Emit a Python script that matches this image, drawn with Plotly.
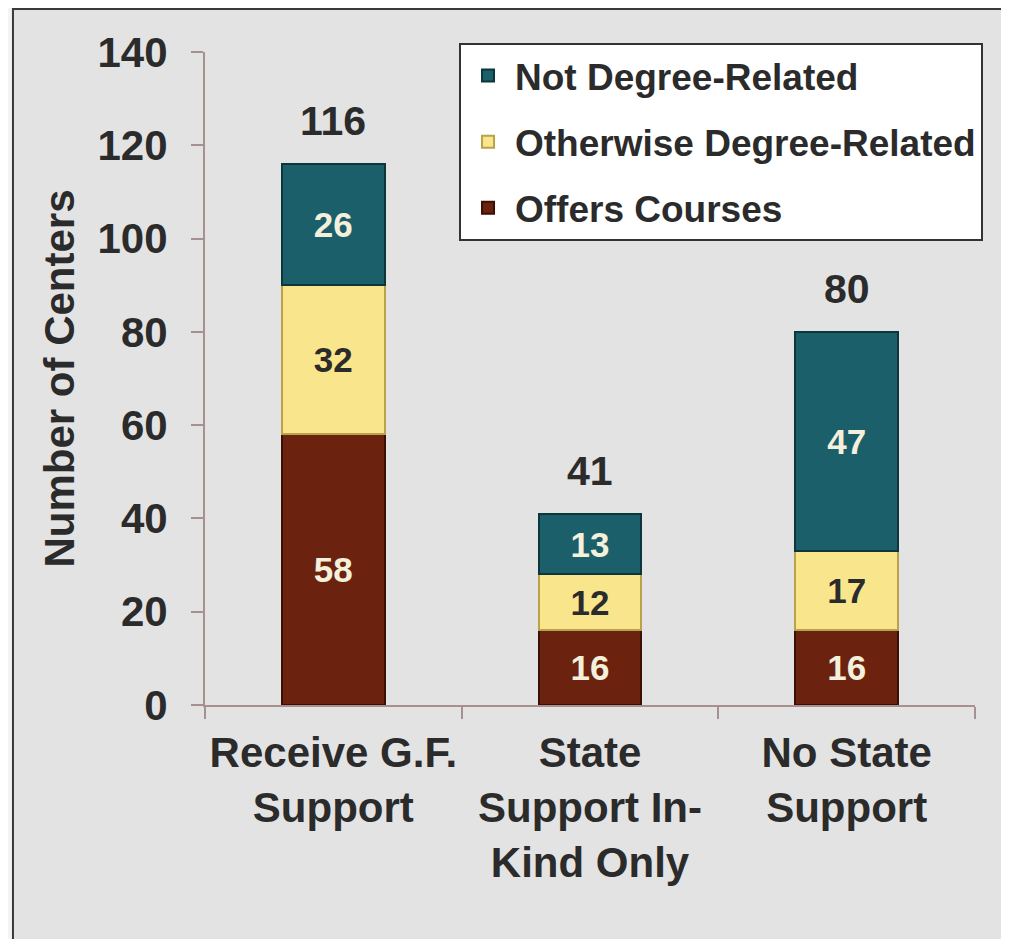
import plotly.graph_objects as go

categories = ["Receive G.F.<br>Support", "State<br>Support In-<br>Kind Only", "No State<br>Support"]
offers_courses = [58, 16, 16]
otherwise_related = [32, 12, 17]
not_related = [26, 13, 47]

totals = [a + b + c for a, b, c in zip(offers_courses, otherwise_related, not_related)]

FONT = "Liberation Sans, Arial, sans-serif"
DARK = "#2b2b2b"
CREAM = "#f4f0dc"
AXIS = "#a89090"
BG = "#e3e3e3"

fig = go.Figure()

series = [
    ("Offers Courses", offers_courses, "#6b220e", "#3a1005", CREAM),
    ("Otherwise Degree-Related", otherwise_related, "#f8e58c", "#b9a24a", DARK),
    ("Not Degree-Related", not_related, "#1b5f6a", "#0c353c", CREAM),
]

for i, (name, vals, color, edge, txt) in enumerate(series):
    fig.add_trace(go.Bar(
        x=categories,
        y=vals,
        name=name,
        legendgroup=str(i),
        legendrank=len(series) - i,
        width=0.4,
        marker=dict(color=color, line=dict(color=edge, width=2)),
        text=vals,
        textposition="inside",
        insidetextanchor="middle",
        textangle=0,
        constraintext="none",
        textfont=dict(family=FONT, size=35, color=txt, weight="bold"),
    ))

# totals above each stack
for cat, tot in zip(categories, totals):
    fig.add_annotation(
        x=cat, y=tot, text=f"<b>{tot}</b>",
        showarrow=False, yanchor="bottom", yshift=18,
        font=dict(family=FONT, size=41, color=DARK),
    )

# outer frame (grey panel with dark border)
fig.add_shape(
    type="rect", xref="paper", yref="paper",
    x0=-0.2494, x1=1.0429, y0=-0.4, y1=1.066,
    line=dict(color="#3a3a3a", width=2), fillcolor=BG, layer="below",
)

fig.update_layout(
    width=1001,
    height=931,
    barmode="stack",
    paper_bgcolor="#f4f4f4",
    plot_bgcolor="rgba(0,0,0,0)",
    margin=dict(l=197, r=34, t=44, b=234),
    font=dict(family=FONT, color=DARK),
    showlegend=True,
    legend=dict(
        traceorder="grouped",
        tracegroupgap=15,
        itemwidth=44,
        entrywidth=470,
        x=0.3299, y=1.0138, xanchor="left", yanchor="top",
        bgcolor="white",
        bordercolor="#333333",
        borderwidth=2,
        font=dict(family=FONT, size=37, color=DARK, weight="bold"),
    ),
    xaxis=dict(
        showline=True,
        linecolor=AXIS,
        linewidth=2,
        ticks="outside",
        tickson="boundaries",
        ticklen=12,
        tickcolor=AXIS,
        tickwidth=2,
        tickangle=0,
        automargin=False,
        ticklabelstandoff=10,
        tickfont=dict(family=FONT, size=42, color=DARK, weight="bold"),
        showgrid=False,
    ),
    yaxis=dict(
        range=[0, 140],
        dtick=20,
        showline=True,
        linecolor=AXIS,
        linewidth=2,
        ticks="outside",
        ticklen=12,
        tickcolor=AXIS,
        tickwidth=2,
        ticklabelstandoff=15,
        automargin=False,
        showgrid=False,
        zeroline=False,
        tickfont=dict(family=FONT, size=42, color=DARK, weight="bold"),
        title=dict(
            text="Number of Centers",
            font=dict(family=FONT, size=42, color=DARK, weight="bold"),
            standoff=10,
        ),
    ),
)

fig.write_html("out.html")
